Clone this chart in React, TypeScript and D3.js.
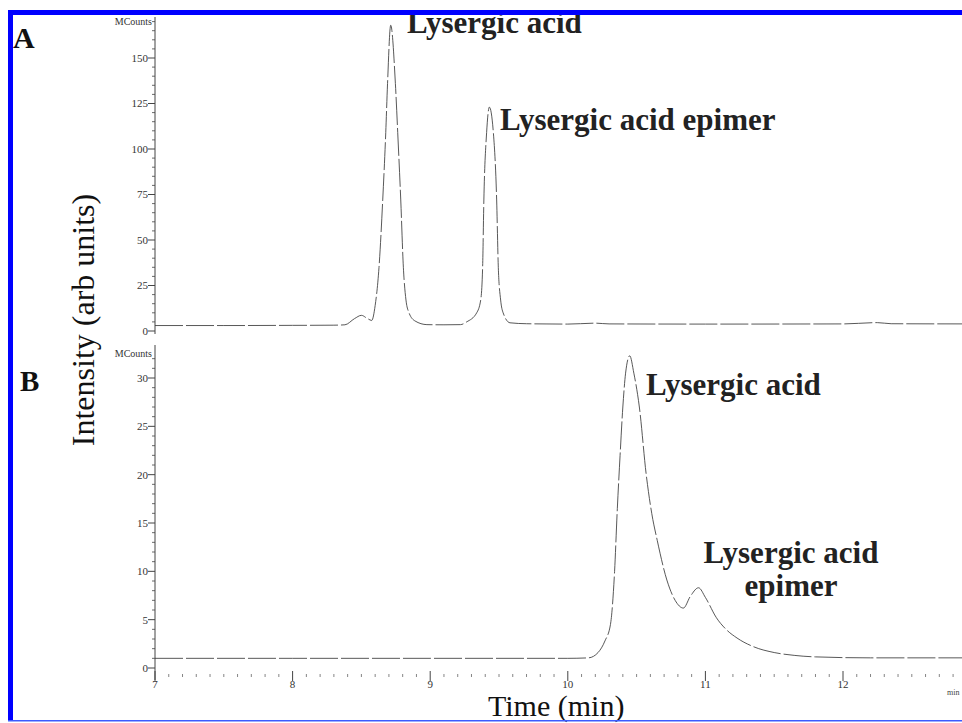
import React from "react";
import * as d3 from "d3";

// Panel A trace: [time (min), intensity (MCounts)]
const traceA: [number, number][] = [
  [7.0, 3.0], [7.5, 3.0], [8.0, 3.1], [8.3, 3.2], [8.38, 3.4], [8.45, 6.8], [8.5, 8.6],
  [8.545, 6.8], [8.575, 5.8], [8.6, 14], [8.628, 35], [8.655, 72], [8.677, 109], [8.69, 136],
  [8.713, 168], [8.747, 136], [8.764, 109], [8.786, 72], [8.805, 35], [8.824, 17], [8.846, 10],
  [8.89, 5.5], [8.976, 3.5], [9.1, 3.4], [9.22, 3.5], [9.265, 5], [9.338, 10], [9.367, 17],
  [9.381, 35], [9.39, 72], [9.41, 109], [9.43, 123], [9.459, 109], [9.483, 72], [9.495, 35],
  [9.512, 17], [9.53, 10], [9.58, 4.5], [9.7, 4.0], [10.0, 3.8], [10.2, 4.3], [10.3, 3.9],
  [11.0, 3.8], [12.0, 3.9], [12.25, 4.6], [12.35, 4.0], [12.87, 3.9],
];

// Panel B trace
const traceB: [number, number][] = [
  [7.0, 1.0], [8.0, 1.0], [9.0, 1.0], [10.0, 1.0], [10.15, 1.05], [10.22, 1.6], [10.27, 2.8],
  [10.31, 4.5], [10.34, 10], [10.36, 16.5], [10.38, 22], [10.4, 27], [10.42, 30.5], [10.45, 32.3],
  [10.48, 30.5], [10.52, 27], [10.57, 20], [10.61, 16], [10.65, 13.2], [10.72, 9.1], [10.78, 7],
  [10.84, 6.2], [10.89, 7.4], [10.95, 8.3], [11.0, 7.3], [11.08, 5.2], [11.15, 4.0], [11.23, 3.1],
  [11.35, 2.2], [11.5, 1.6], [11.65, 1.3], [11.8, 1.15], [12.2, 1.05], [12.87, 1.05],
];

const xMajorTicks = [7, 8, 9, 10, 11, 12];
const yTicksA = [0, 25, 50, 75, 100, 125, 150];
const yTicksB = [0, 5, 10, 15, 20, 25, 30];

const labelA1 = "Lysergic acid";
const labelA2 = "Lysergic acid epimer";
const labelB1 = "Lysergic acid";
const labelB2 = ["Lysergic acid", "epimer"];

const serif = "'Liberation Serif', 'Times New Roman', serif";

export default function App() {
  const x = d3.scaleLinear().domain([7, 12]).range([155, 843]);
  const yA = d3.scaleLinear().domain([0, 150]).range([331, 58]);
  const yB = d3.scaleLinear().domain([0, 30]).range([668, 378]);

  const lineA = d3.line<[number, number]>().x(d => x(d[0])).y(d => yA(d[1])).curve(d3.curveMonotoneX);
  const lineB = d3.line<[number, number]>().x(d => x(d[0])).y(d => yB(d[1])).curve(d3.curveMonotoneX);

  const minorA = d3.range(0, 171, 5).filter(v => v % 25 !== 0);
  const minorB = d3.range(0, 33, 1).filter(v => v % 5 !== 0);
  const minorX = d3.range(70, 129, 1).map(v => v / 10).filter(v => Math.abs(v - Math.round(v)) > 1e-6);

  const axisX = 155;
  const tickColor = "#444";

  const yAxis = (y: d3.ScaleLinear<number, number>, major: number[], minor: number[], top: number, bottom: number, mcY: number) => (
    <g>
      <line x1={axisX} x2={axisX} y1={top} y2={bottom} stroke={tickColor} strokeWidth={1} />
      {major.map(v => (
        <g key={"M" + v}>
          <line x1={axisX - 7} x2={axisX} y1={y(v)} y2={y(v)} stroke={tickColor} strokeWidth={1} />
          <text x={axisX - 7} y={y(v)} dy="0.35em" textAnchor="end" fontSize={11} fontFamily={serif} fill="#333">{v}</text>
        </g>
      ))}
      {minor.map(v => (
        <line key={"m" + v} x1={axisX - 3} x2={axisX} y1={y(v)} y2={y(v)} stroke={tickColor} strokeWidth={0.8} />
      ))}
      <text x={axisX - 3} y={mcY} dy="0.35em" textAnchor="end" fontSize={10} fontFamily={serif} fill="#333">MCounts</text>
    </g>
  );

  return (
    <svg width={962} height={723} style={{ position: "absolute", left: 0, top: 0, background: "#fff" }}>
      <rect x={0} y={0} width={962} height={723} fill="#fff" />

      {/* Panel A */}
      {yAxis(yA, yTicksA, minorA, 17, 334, 21)}
      <path d={lineA(traceA) || ""} fill="none" stroke="#3a3a3a" strokeWidth={0.85} strokeDasharray="28 3" />

      {/* Panel B */}
      {yAxis(yB, yTicksB, minorB, 345, 680, 353)}
      <path d={lineB(traceB) || ""} fill="none" stroke="#3a3a3a" strokeWidth={0.85} strokeDasharray="28 3" />

      {/* X axis (ticks only) */}
      {xMajorTicks.map(t => (
        <g key={"x" + t}>
          <line x1={x(t)} x2={x(t)} y1={671} y2={681} stroke={tickColor} strokeWidth={1} />
          <text x={x(t)} y={688} textAnchor="middle" fontSize={11} fontFamily={serif} fill="#333">{t}</text>
        </g>
      ))}
      {minorX.map(t => (
        <line key={"xm" + t} x1={x(t)} x2={x(t)} y1={674} y2={677} stroke="#666" strokeWidth={0.8} />
      ))}
      <text x={947} y={695} fontSize={8} fontFamily={serif} fill="#444">min</text>

      {/* Peak labels */}
      <text x={407} y={33} fontSize={31} fontWeight="bold" fontFamily={serif} fill="#222">{labelA1}</text>
      <text x={500} y={130} fontSize={31} fontWeight="bold" fontFamily={serif} fill="#222">{labelA2}</text>
      <text x={646} y={395} fontSize={31} fontWeight="bold" fontFamily={serif} fill="#222">{labelB1}</text>
      <text x={791} y={563} textAnchor="middle" fontSize={31} fontWeight="bold" fontFamily={serif} fill="#222">{labelB2[0]}</text>
      <text x={791} y={596} textAnchor="middle" fontSize={31} fontWeight="bold" fontFamily={serif} fill="#222">{labelB2[1]}</text>

      {/* Panel letters */}
      <text x={13} y={48} fontSize={30} fontWeight="bold" fontFamily={serif} fill="#111">A</text>
      <text x={20} y={391} fontSize={29} fontWeight="bold" fontFamily={serif} fill="#111">B</text>

      {/* Axis titles */}
      <text transform="translate(94,320) rotate(-90)" textAnchor="middle" fontSize={32} fontFamily={serif} fill="#111">Intensity (arb units)</text>
      <text x={488} y={716} fontSize={30} fontFamily={serif} fill="#111">Time (min)</text>

      {/* Blue frame */}
      <rect x={8} y={10} width={954} height={5} fill="#0000ff" />
      <rect x={8} y={10} width={5} height={711} fill="#0000ff" />
      <rect x={8} y={720} width={954} height={1.5} fill="#3b5bff" />
    </svg>
  );
}
